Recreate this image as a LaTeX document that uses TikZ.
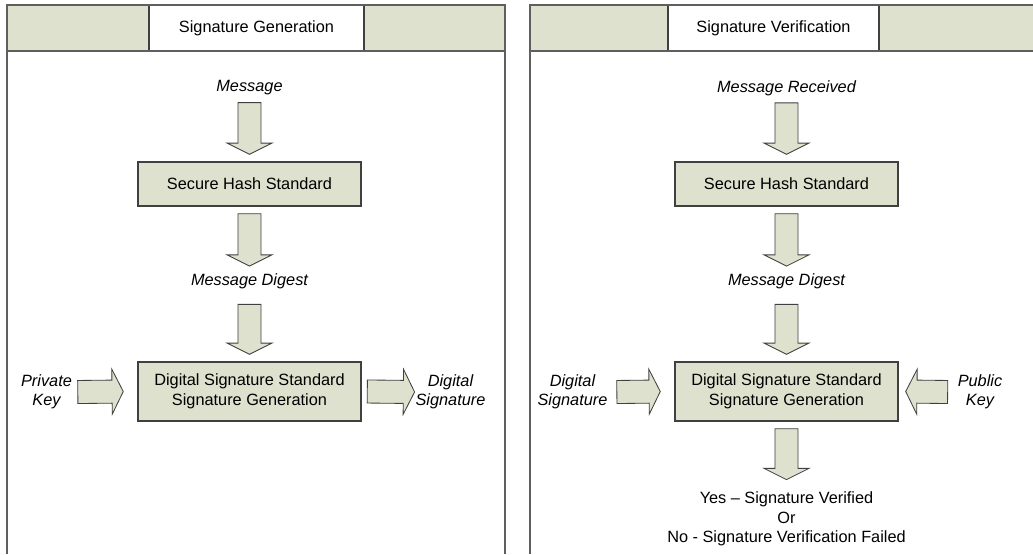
\documentclass[tikz,border=0pt]{standalone}
\usepackage{fontspec}
\setmainfont{Liberation Sans}
\usepackage{tikz}
\usetikzlibrary{calc}
\definecolor{boxgreen}{RGB}{221,225,205}
\definecolor{linegray}{RGB}{64,64,64}
\definecolor{framegray}{RGB}{95,95,95}
\newcommand{\figfont}{\fontsize{11.6}{13.9}\selectfont}
% block arrow from #1 to #2 (tip at #2)
\newcommand{\blockarrow}[2]{%
  \coordinate (ba-s) at #1;
  \coordinate (ba-e) at #2;
  \coordinate (ba-h) at ($(ba-e)!8pt!(ba-s)$);
  \draw[barrow] ($(ba-s)!8.2pt!90:(ba-e)$) -- ($(ba-h)!8.2pt!90:(ba-e)$)
    -- ($(ba-h)!16pt!90:(ba-e)$) -- (ba-e) -- ($(ba-h)!16pt!-90:(ba-e)$)
    -- ($(ba-h)!8.2pt!-90:(ba-e)$) -- ($(ba-s)!8.2pt!-90:(ba-e)$) -- cycle;}

\begin{document}
\begin{tikzpicture}[x=0.025cm, y=-0.025cm, font=\figfont,
    stdbox/.style={draw=linegray, line width=0.9pt, fill=boxgreen, minimum width=5.575cm, align=center},
    lbl/.style={font=\figfont\itshape, inner sep=0pt, align=center},
    barrow/.style={draw=linegray, line width=0.6pt, fill=boxgreen, line join=miter},
    frame/.style={draw=framegray, line width=1pt},
    titlecell/.style={draw=linegray, line width=0.9pt, fill=white, minimum height=1.15cm}]
    \useasboundingbox (0,0) rectangle (1033,554);

    % left panel
    \fill[boxgreen] (7,5) rectangle (505,51);
    \node[titlecell, minimum width=5.375cm] (titleA) at (256.5,28) {Signature Generation};
    \draw[frame] (7,554) -- (7,5) -- (505,5) -- (505,554);
    \draw[frame] (7,51) -- (505,51);

    \node[lbl] (msgA) at (249.5,88) {Message};
    \node[stdbox, minimum height=1.1cm] (hashA) at (249.5,184) {Secure Hash Standard};
    \node[lbl] (digA) at (249.5,281) {Message Digest};
    \node[stdbox, minimum height=1.475cm] (dssA) at (249.5,391.5) {Digital Signature Standard\\Signature Generation};
    \node[lbl] (keyA) at (46.5,392) {Private\\Key};
    \node[lbl] (sigA) at (450.5,392) {Digital\\Signature};

    \blockarrow{([yshift=-5pt]msgA.south)}{([yshift=5pt]hashA.north)}
    \blockarrow{([yshift=-5pt]hashA.south)}{([yshift=5pt]digA.north)}
    \blockarrow{([yshift=-11pt]digA.south)}{([yshift=5pt]dssA.north)}
    \blockarrow{([xshift=4pt]keyA.east)}{([xshift=-10pt]dssA.west)}
    \blockarrow{([xshift=4pt]dssA.east)}{([xshift=-0.5pt]sigA.west)}

    % right panel
    \fill[boxgreen] (530,5) rectangle (1033,51);
    \node[titlecell, minimum width=5.275cm] (titleB) at (773.5,28) {Signature Verification};
    \draw[frame] (530,554) -- (530,5) -- (1033,5);
    \draw[frame] (530,51) -- (1033,51);

    \node[lbl] (msgB) at (786.5,88) {Message Received};
    \node[stdbox, minimum height=1.1cm] (hashB) at (786.5,184) {Secure Hash Standard};
    \node[lbl] (digB) at (786.5,281) {Message Digest};
    \node[stdbox, minimum height=1.475cm] (dssB) at (786.5,391.5) {Digital Signature Standard\\Signature Generation};
    \node[lbl] (sigB) at (572.5,392) {Digital\\Signature};
    \node[lbl] (keyB) at (980,392) {Public\\Key};
    \node[inner sep=0pt, align=center] (result) at (786.5,519) {Yes – Signature Verified\\Or\\No - Signature Verification Failed};

    \blockarrow{([yshift=-5pt]msgB.south)}{([yshift=5pt]hashB.north)}
    \blockarrow{([yshift=-5pt]hashB.south)}{([yshift=5pt]digB.north)}
    \blockarrow{([yshift=-11pt]digB.south)}{([yshift=5pt]dssB.north)}
    \blockarrow{([xshift=6.5pt]sigB.east)}{([xshift=-10pt]dssB.west)}
    \blockarrow{([xshift=-7pt]keyB.west)}{([xshift=5pt]dssB.east)}
    \blockarrow{([yshift=-5pt]dssB.south)}{([yshift=8.5pt]result.north)}
\end{tikzpicture}
\end{document}
